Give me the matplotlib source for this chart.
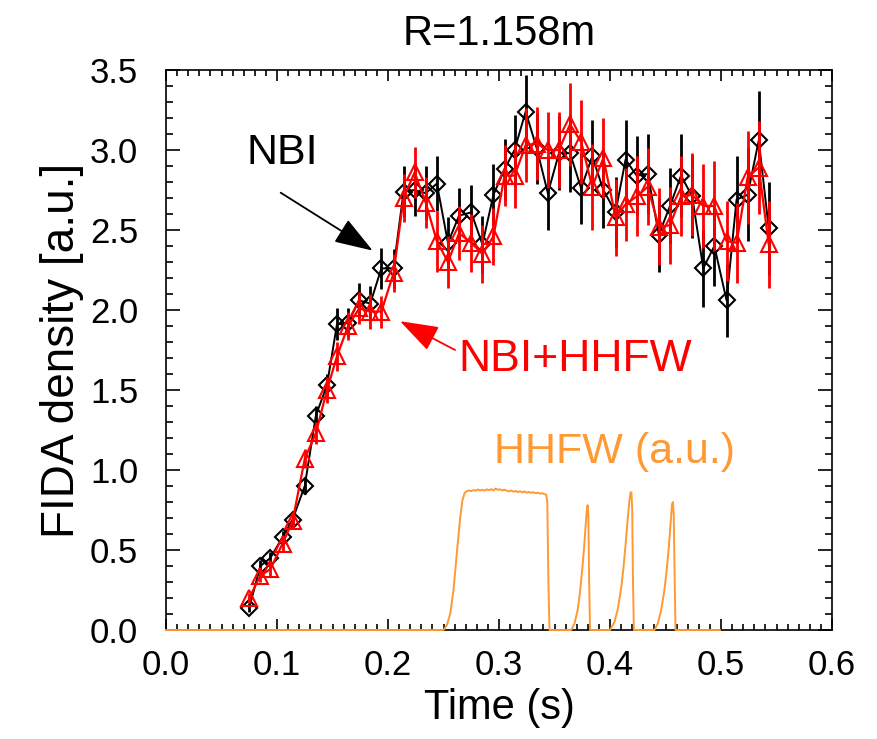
import matplotlib
matplotlib.use("Agg")
import matplotlib.pyplot as plt
from matplotlib.ticker import MultipleLocator

plt.rcParams['font.family'] = ['Liberation Sans', 'DejaVu Sans']

# ---- data ----
time_s = [0.075, 0.085, 0.094, 0.105, 0.114, 0.125, 0.135, 0.145, 0.154, 0.164,
          0.174, 0.184, 0.194, 0.205, 0.214, 0.224, 0.234, 0.244, 0.254, 0.264,
          0.275, 0.285, 0.295, 0.305, 0.314, 0.324, 0.334, 0.344, 0.354, 0.364,
          0.374, 0.384, 0.394, 0.405, 0.414, 0.424, 0.434, 0.444, 0.454, 0.464,
          0.474, 0.484, 0.494, 0.505, 0.514, 0.524, 0.534, 0.543]

nbi = [0.14, 0.40, 0.45, 0.58, 0.69, 0.90, 1.34, 1.53, 1.91, 1.92,
       2.06, 2.04, 2.26, 2.26, 2.74, 2.75, 2.73, 2.79, 2.42, 2.59,
       2.61, 2.41, 2.72, 2.88, 3.00, 3.24, 3.01, 2.73, 2.98, 2.98,
       2.76, 2.96, 2.75, 2.61, 2.94, 2.84, 2.85, 2.47, 2.65, 2.84,
       2.71, 2.26, 2.40, 2.06, 2.69, 2.72, 3.06, 2.51]
nbi_err = [0.03, 0.04, 0.04, 0.04, 0.05, 0.05, 0.06, 0.07, 0.10, 0.09,
           0.11, 0.11, 0.13, 0.12, 0.16, 0.16, 0.17, 0.17, 0.16, 0.17,
           0.17, 0.18, 0.19, 0.19, 0.22, 0.23, 0.22, 0.23, 0.23, 0.24,
           0.22, 0.23, 0.24, 0.22, 0.25, 0.25, 0.25, 0.23, 0.24, 0.26,
           0.26, 0.24, 0.25, 0.23, 0.27, 0.29, 0.31, 0.29]

nbi_hhfw = [0.20, 0.34, 0.38, 0.54, 0.68, 1.07, 1.23, 1.50, 1.71, 1.90,
            2.01, 1.99, 1.99, 2.23, 2.70, 2.86, 2.67, 2.43, 2.30, 2.48,
            2.42, 2.35, 2.46, 2.84, 2.84, 3.03, 3.04, 3.00, 3.00, 3.16,
            3.05, 2.77, 2.95, 2.58, 2.66, 2.71, 2.77, 2.52, 2.53, 2.71,
            2.72, 2.65, 2.65, 2.43, 2.42, 2.83, 2.89, 2.41]
nbi_hhfw_err = [0.03, 0.04, 0.04, 0.05, 0.05, 0.06, 0.07, 0.08, 0.09, 0.09,
                0.10, 0.11, 0.10, 0.12, 0.15, 0.16, 0.16, 0.19, 0.16, 0.17,
                0.18, 0.18, 0.18, 0.19, 0.20, 0.23, 0.23, 0.24, 0.24, 0.26,
                0.26, 0.27, 0.25, 0.24, 0.23, 0.25, 0.24, 0.24, 0.24, 0.25,
                0.26, 0.26, 0.28, 0.25, 0.25, 0.29, 0.29, 0.27]

# HHFW power trace (a.u.)
hhfw_t = [0.000, 0.250, 0.253, 0.256, 0.259, 0.262, 0.265, 0.267, 0.269, 0.271,
          0.273, 0.275, 0.277, 0.279, 0.281, 0.283, 0.285, 0.287, 0.289, 0.291,
          0.293, 0.295, 0.297, 0.299, 0.301, 0.303, 0.305, 0.307, 0.309, 0.311,
          0.313, 0.315, 0.317, 0.319, 0.321, 0.323, 0.325, 0.327, 0.329, 0.331,
          0.333, 0.335, 0.337, 0.339, 0.341, 0.3425, 0.3435, 0.3445, 0.3455,
          0.3650, 0.368, 0.371, 0.373, 0.375, 0.3765, 0.378, 0.379, 0.3798, 0.3805, 0.3812, 0.382,
          0.4000, 0.404, 0.407, 0.410, 0.412, 0.414, 0.416, 0.4175, 0.4185, 0.4193, 0.4200, 0.4207, 0.4215,
          0.4400, 0.443, 0.446, 0.449, 0.451, 0.453, 0.4545, 0.4558, 0.4566, 0.4574, 0.4582, 0.459,
          0.499]
hhfw_v = [0.0, 0.0, 0.03, 0.10, 0.25, 0.48, 0.70, 0.81, 0.855, 0.868,
          0.872, 0.868, 0.875, 0.870, 0.878, 0.872, 0.876, 0.871, 0.879, 0.874,
          0.880, 0.873, 0.884, 0.876, 0.879, 0.872, 0.877, 0.870, 0.866, 0.872,
          0.864, 0.869, 0.862, 0.867, 0.860, 0.866, 0.858, 0.863, 0.857, 0.861,
          0.855, 0.858, 0.852, 0.855, 0.849, 0.846, 0.80, 0.30, 0.0,
          0.0, 0.04, 0.13, 0.24, 0.38, 0.50, 0.65, 0.74, 0.78, 0.72, 0.30, 0.0,
          0.0, 0.05, 0.13, 0.26, 0.38, 0.53, 0.70, 0.81, 0.86, 0.86, 0.75, 0.30, 0.0,
          0.0, 0.04, 0.12, 0.25, 0.37, 0.52, 0.66, 0.78, 0.80, 0.72, 0.35, 0.0,
          0.0]

fig = plt.figure(figsize=(8.77, 7.39), dpi=100)
ax = fig.add_axes([0.1893, 0.1475, 0.7594, 0.7578])

orange = '#FF9933'
ax.plot(hhfw_t, hhfw_v, color=orange, lw=1.4, clip_on=False, zorder=5)

ax.errorbar(time_s, nbi, yerr=nbi_err, fmt='-', color='black', lw=1.4,
            elinewidth=2.0, capsize=0, marker='D', ms=8, mfc='none',
            mec='black', mew=1.5, zorder=3)
ax.errorbar(time_s, nbi_hhfw, yerr=nbi_hhfw_err, fmt='-', color='red', lw=1.6,
            elinewidth=2.0, capsize=0, marker='^', ms=12, mfc='none',
            mec='red', mew=1.5, zorder=4)

ax.set_xlim(0, 0.6)
ax.set_ylim(0, 3.5)
ax.xaxis.set_major_locator(MultipleLocator(0.1))
ax.xaxis.set_minor_locator(MultipleLocator(0.01))
ax.yaxis.set_major_locator(MultipleLocator(0.5))
ax.yaxis.set_minor_locator(MultipleLocator(0.1))
ax.xaxis.set_major_formatter(plt.FuncFormatter(lambda v, p: f"{v:.1f}"))
ax.yaxis.set_major_formatter(plt.FuncFormatter(lambda v, p: f"{v:.1f}"))

ax.tick_params(axis='both', which='both', direction='in', top=True, right=True,
               width=1.2, labelsize=25)
ax.tick_params(axis='x', which='major', length=8, pad=14)
ax.tick_params(axis='x', which='minor', length=4)
ax.tick_params(axis='y', which='major', length=10, pad=20)
ax.tick_params(axis='y', which='minor', length=5)
for s in ax.spines.values():
    s.set_linewidth(1.2)

ax.set_xlabel('Time (s)', fontsize=30, labelpad=4)
ax.set_ylabel('FIDA density [a.u.]', fontsize=33, labelpad=4)
ax.set_title('R=1.158m', fontsize=30, pad=18)

ax.text(0.1045, 2.98, 'NBI', fontsize=31, color='black', ha='center', va='center')
ax.annotate('', xy=(0.1862, 2.371), xytext=(0.1033, 2.733),
            arrowprops=dict(arrowstyle='-|>,head_length=1.6,head_width=0.55',
                            mutation_scale=15, color='black', lw=1.3,
                            shrinkA=0, shrinkB=0))
ax.text(0.369, 1.69, 'NBI+HHFW', fontsize=32, color='red', ha='center', va='center')
ax.annotate('', xy=(0.2108, 1.93), xytext=(0.2604, 1.75),
            arrowprops=dict(arrowstyle='-|>,head_length=1.6,head_width=0.55',
                            mutation_scale=15, color='red', lw=1.3,
                            shrinkA=0, shrinkB=0))
ax.text(0.4036, 1.11, 'HHFW (a.u.)', fontsize=31, color=orange, ha='center', va='center')

fig.savefig('out.png', dpi=100)
